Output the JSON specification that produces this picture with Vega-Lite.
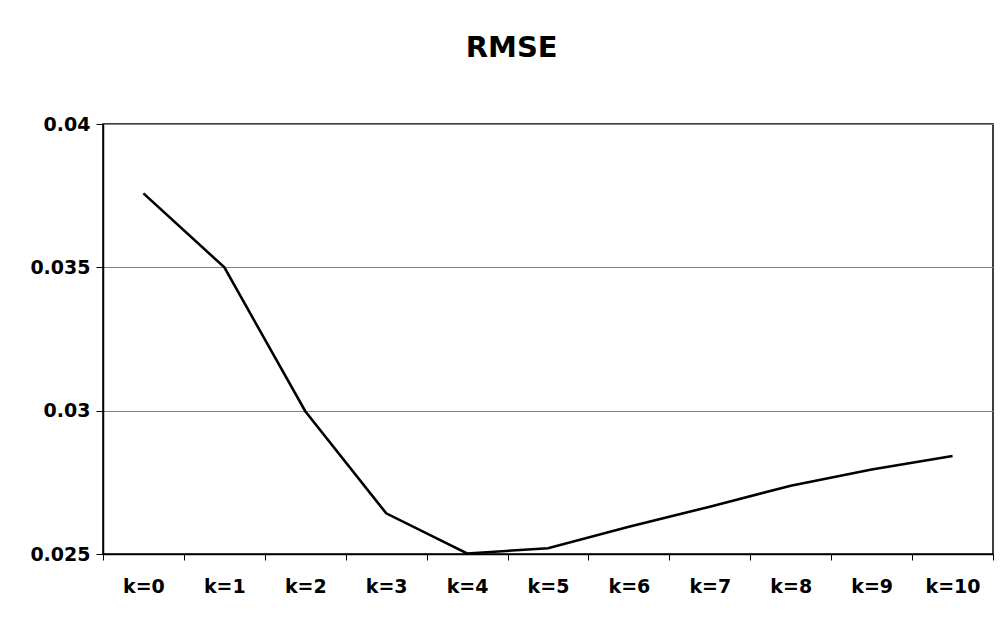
{
  "$schema": "https://vega.github.io/schema/vega-lite/v6.json",
  "autosize": {"type": "none"},
  "padding": {"left": 103, "top": 124, "right": 10, "bottom": 69},
  "width": 890,
  "height": 430,
  "background": "white",
  "title": {
    "text": "RMSE",
    "font": "DejaVu Sans",
    "fontSize": 29,
    "fontWeight": "bold",
    "color": "black",
    "anchor": "middle",
    "frame": "bounds",
    "offset": 52
  },
  "config": {
    "view": {"stroke": "black", "strokeWidth": 1.5},
    "axis": {
      "labelFont": "DejaVu Sans",
      "labelFontSize": 19,
      "labelFontWeight": "bold",
      "labelColor": "black",
      "domainColor": "black",
      "domainWidth": 1.5,
      "tickColor": "black",
      "tickWidth": 1,
      "title": null
    }
  },
  "data": {
    "values": [
      {"k": "k=0", "rmse": 0.03758},
      {"k": "k=1", "rmse": 0.0350},
      {"k": "k=2", "rmse": 0.02998},
      {"k": "k=3", "rmse": 0.02642},
      {"k": "k=4", "rmse": 0.02502},
      {"k": "k=5", "rmse": 0.0252},
      {"k": "k=6", "rmse": 0.02595},
      {"k": "k=7", "rmse": 0.02665},
      {"k": "k=8", "rmse": 0.02738},
      {"k": "k=9", "rmse": 0.02795},
      {"k": "k=10", "rmse": 0.02842}
    ]
  },
  "mark": {"type": "line", "color": "black", "strokeWidth": 2.6},
  "encoding": {
    "x": {
      "field": "k",
      "type": "nominal",
      "sort": null,
      "scale": {"type": "band", "paddingInner": 0, "paddingOuter": 0},
      "axis": {
        "labelAngle": 0,
        "tickBand": "extent",
        "tickSize": 6,
        "labelPadding": 17,
        "grid": false
      }
    },
    "y": {
      "field": "rmse",
      "type": "quantitative",
      "scale": {"domain": [0.025, 0.04], "nice": false, "zero": false},
      "axis": {
        "values": [0.025, 0.03, 0.035, 0.04],
        "format": ".3~f",
        "tickSize": 7,
        "labelPadding": 6,
        "grid": true,
        "gridColor": "#808080",
        "gridWidth": 1
      }
    }
  }
}
